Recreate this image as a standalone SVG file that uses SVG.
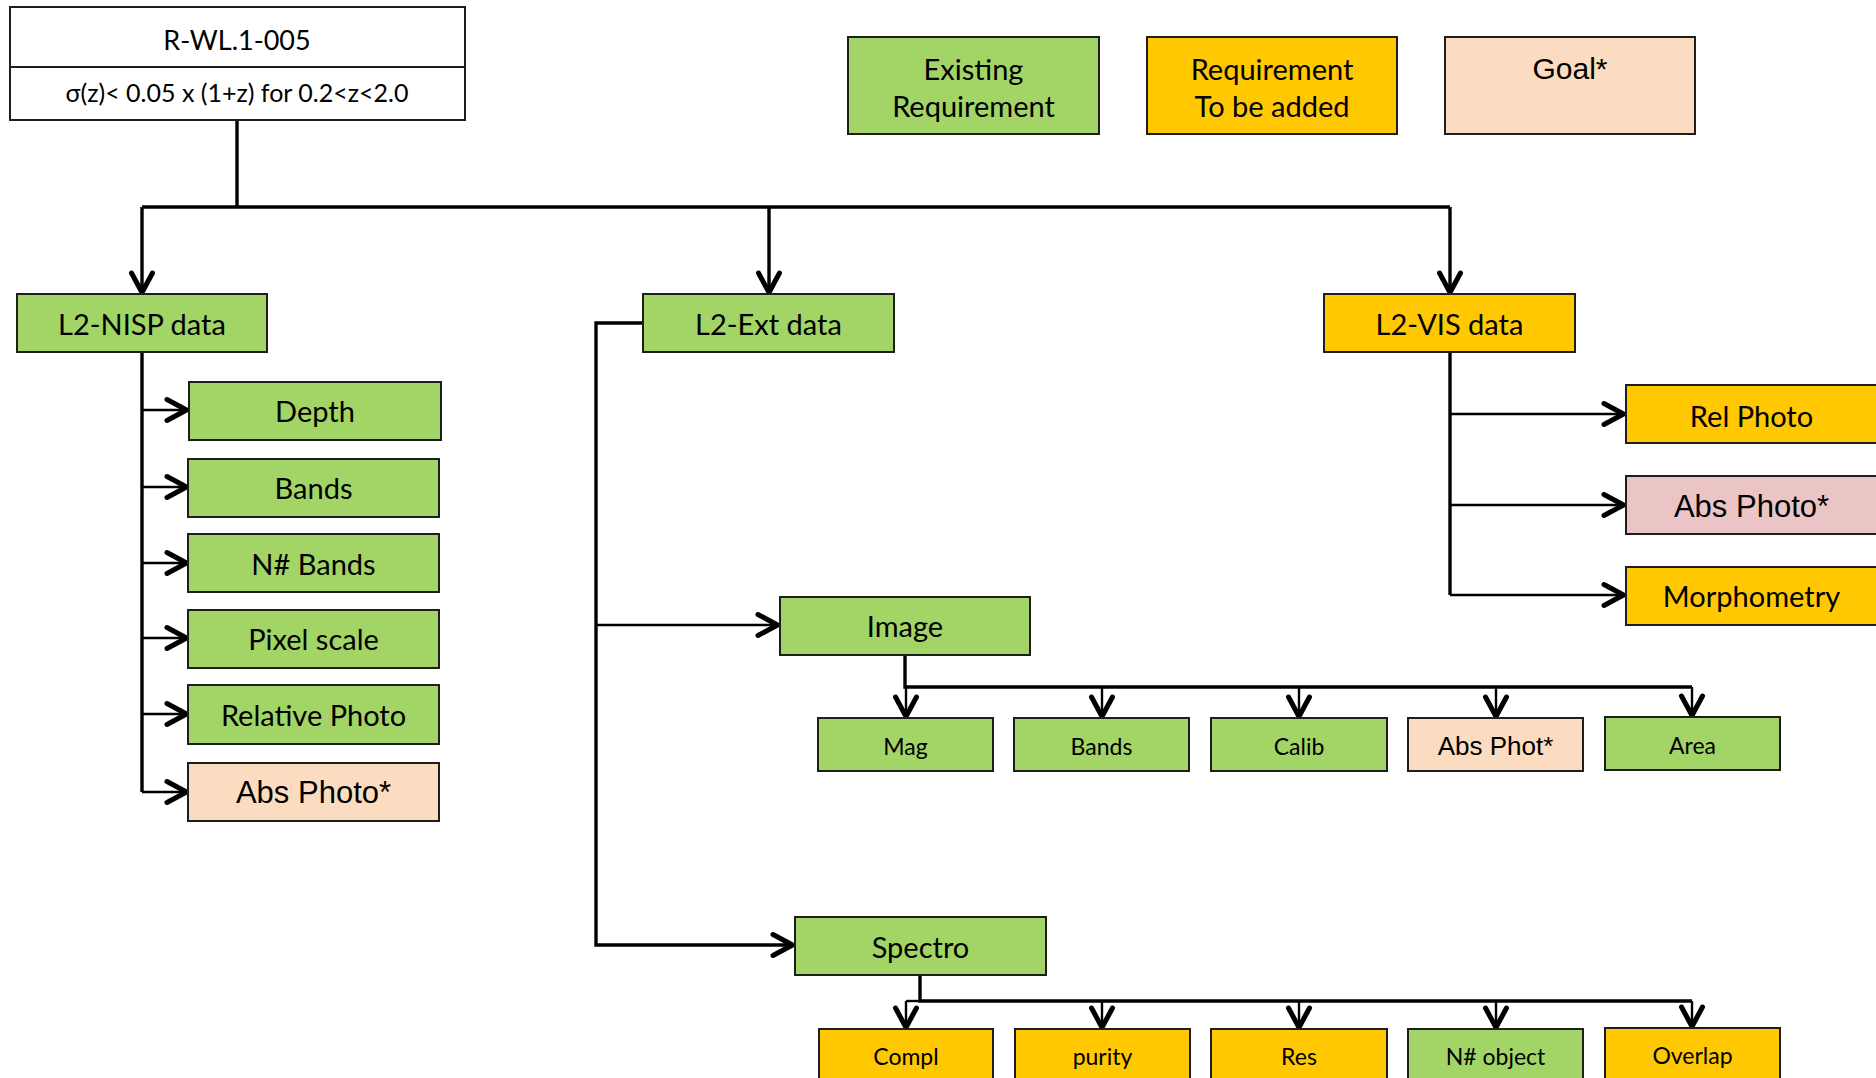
<svg xmlns="http://www.w3.org/2000/svg" width="1876" height="1078" viewBox="0 0 1876 1078">
  <style>
    .box { stroke: #1e1e1e; stroke-width: 2; }
    .green { fill: #A2D566; }
    .yellow { fill: #FFC800; }
    .peach { fill: #FCDCC0; }
    .pink { fill: #EBC5C5; }
    .white { fill: #FFFFFF; }
    .t { font-family: "Lato", "Open Sans", sans-serif; font-size: 29px; fill: #000; text-anchor: middle; }
    .ts { font-family: "Lato", "Open Sans", sans-serif; font-size: 23px; fill: #000; text-anchor: middle; }
    .a { font-family: "Liberation Sans", Arial, sans-serif; font-size: 31px; fill: #000; text-anchor: middle; }
    .as { font-family: "Liberation Sans", Arial, sans-serif; font-size: 26px; fill: #000; text-anchor: middle; }
    .ln { fill: none; stroke: #000; stroke-width: 2.4; }
    .lk { fill: none; stroke: #000; stroke-width: 3.4; }
  </style>
  <defs>
    <marker id="chev" markerUnits="userSpaceOnUse" markerWidth="32" markerHeight="32" viewBox="-28 -16 32 32" refX="0" refY="0" orient="auto">
      <path d="M-21,-10.5 L-1.5,0 L-21,10.5" fill="none" stroke="#000" stroke-width="5" stroke-linecap="round" stroke-linejoin="round"/>
    </marker>
  </defs>

  <rect width="1876" height="1078" fill="#FFFFFF"/>

  <!-- connectors -->
  <g id="connectors">
    <!-- root to the three data products -->
    <path class="lk" d="M237,120 V207"/>
    <path class="lk" d="M142,207 H1450"/>
    <path class="lk" d="M142,207 V294" marker-end="url(#chev)"/>
    <path class="lk" d="M769,207 V294" marker-end="url(#chev)"/>
    <path class="lk" d="M1450,207 V294" marker-end="url(#chev)"/>

    <!-- L2-NISP children -->
    <path class="lk" d="M142,352 V792"/>
    <path class="ln" d="M142,410 H188" marker-end="url(#chev)"/>
    <path class="ln" d="M142,487 H188" marker-end="url(#chev)"/>
    <path class="ln" d="M142,563 H188" marker-end="url(#chev)"/>
    <path class="ln" d="M142,638 H188" marker-end="url(#chev)"/>
    <path class="ln" d="M142,714 H188" marker-end="url(#chev)"/>
    <path class="ln" d="M142,792 H188" marker-end="url(#chev)"/>

    <!-- L2-Ext children -->
    <path class="lk" d="M643,323 H596 V945 H794" marker-end="url(#chev)"/>
    <path class="ln" d="M596,625 H779" marker-end="url(#chev)"/>

    <!-- Image children -->
    <path class="lk" d="M905,655 V687 H1692"/>
    <path class="ln" d="M906,687 V718" marker-end="url(#chev)"/>
    <path class="ln" d="M1102,687 V718" marker-end="url(#chev)"/>
    <path class="ln" d="M1299,687 V718" marker-end="url(#chev)"/>
    <path class="ln" d="M1496,687 V718" marker-end="url(#chev)"/>
    <path class="ln" d="M1692,687 V717" marker-end="url(#chev)"/>

    <!-- Spectro children -->
    <path class="lk" d="M920,975 V1001 H1692"/>
    <path class="ln" d="M906,1001 H920"/>
    <path class="ln" d="M906,1001 V1029" marker-end="url(#chev)"/>
    <path class="ln" d="M1102,1001 V1029" marker-end="url(#chev)"/>
    <path class="ln" d="M1299,1001 V1029" marker-end="url(#chev)"/>
    <path class="ln" d="M1496,1001 V1029" marker-end="url(#chev)"/>
    <path class="ln" d="M1692,1001 V1028" marker-end="url(#chev)"/>

    <!-- L2-VIS children -->
    <path class="lk" d="M1450,352 V595"/>
    <path class="ln" d="M1450,414 H1625" marker-end="url(#chev)"/>
    <path class="ln" d="M1450,505 H1625" marker-end="url(#chev)"/>
    <path class="ln" d="M1450,595 H1625" marker-end="url(#chev)"/>
  </g>

  <!-- root requirement -->
  <g id="root">
    <rect class="box white" x="10" y="7" width="455" height="113"/>
    <line x1="10" y1="67" x2="465" y2="67" stroke="#1e1e1e" stroke-width="2"/>
    <text class="t" x="237" y="50" style="font-size:27px">R-WL.1-005</text>
    <text class="t" x="237" y="102" style="font-size:25px">σ(z)&lt; 0.05 x (1+z) for 0.2&lt;z&lt;2.0</text>
  </g>

  <!-- legend -->
  <g id="legend-existing">
    <rect class="box green" x="848" y="37" width="251" height="97"/>
    <text class="t" x="973.5" y="80">Existing</text>
    <text class="t" x="973.5" y="117">Requirement</text>
  </g>
  <g id="legend-added">
    <rect class="box yellow" x="1147" y="37" width="250" height="97"/>
    <text class="t" x="1272" y="80">Requirement</text>
    <text class="t" x="1272" y="117">To be added</text>
  </g>
  <g id="legend-goal">
    <rect class="box peach" x="1445" y="37" width="250" height="97"/>
    <text class="a" x="1570" y="79" style="font-size:30px">Goal*</text>
  </g>

  <!-- data products -->
  <g id="l2-nisp">
    <rect class="box green" x="17" y="294" width="250" height="58"/>
    <text class="t" x="142" y="335">L2-NISP data</text>
  </g>
  <g id="l2-ext">
    <rect class="box green" x="643" y="294" width="251" height="58"/>
    <text class="t" x="768.5" y="335">L2-Ext data</text>
  </g>
  <g id="l2-vis">
    <rect class="box yellow" x="1324" y="294" width="251" height="58"/>
    <text class="t" x="1449.5" y="335">L2-VIS data</text>
  </g>

  <!-- NISP requirements -->
  <g id="nisp-depth">
    <rect class="box green" x="189" y="382" width="252" height="58"/>
    <text class="t" x="315" y="422">Depth</text>
  </g>
  <g id="nisp-bands">
    <rect class="box green" x="188" y="459" width="251" height="58"/>
    <text class="t" x="313.5" y="499">Bands</text>
  </g>
  <g id="nisp-nbands">
    <rect class="box green" x="188" y="534" width="251" height="58"/>
    <text class="t" x="313.5" y="575">N# Bands</text>
  </g>
  <g id="nisp-pixel">
    <rect class="box green" x="188" y="610" width="251" height="58"/>
    <text class="t" x="313.5" y="650">Pixel scale</text>
  </g>
  <g id="nisp-relphoto">
    <rect class="box green" x="188" y="685" width="251" height="59"/>
    <text class="t" x="313.5" y="726">Relative Photo</text>
  </g>
  <g id="nisp-absphoto">
    <rect class="box peach" x="188" y="763" width="251" height="58"/>
    <text class="a" x="313.5" y="803">Abs Photo*</text>
  </g>

  <!-- VIS requirements -->
  <g id="vis-relphoto">
    <rect class="box yellow" x="1626" y="385" width="251" height="58"/>
    <text class="t" x="1751.5" y="427">Rel Photo</text>
  </g>
  <g id="vis-absphoto">
    <rect class="box pink" x="1626" y="476" width="251" height="58"/>
    <text class="a" x="1751.5" y="517">Abs Photo*</text>
  </g>
  <g id="vis-morphometry">
    <rect class="box yellow" x="1626" y="567" width="251" height="58"/>
    <text class="t" x="1751.5" y="607">Morphometry</text>
  </g>

  <!-- Ext branches -->
  <g id="ext-image">
    <rect class="box green" x="780" y="597" width="250" height="58"/>
    <text class="t" x="905" y="637">Image</text>
  </g>
  <g id="ext-spectro">
    <rect class="box green" x="795" y="917" width="251" height="58"/>
    <text class="t" x="920.5" y="958">Spectro</text>
  </g>

  <!-- Image requirements -->
  <g id="img-mag">
    <rect class="box green" x="818" y="718" width="175" height="53"/>
    <text class="ts" x="905.5" y="755">Mag</text>
  </g>
  <g id="img-bands">
    <rect class="box green" x="1014" y="718" width="175" height="53"/>
    <text class="ts" x="1101.5" y="755">Bands</text>
  </g>
  <g id="img-calib">
    <rect class="box green" x="1211" y="718" width="176" height="53"/>
    <text class="ts" x="1299" y="755">Calib</text>
  </g>
  <g id="img-absphot">
    <rect class="box peach" x="1408" y="718" width="175" height="53"/>
    <text class="as" x="1495.5" y="755">Abs Phot*</text>
  </g>
  <g id="img-area">
    <rect class="box green" x="1605" y="717" width="175" height="53"/>
    <text class="ts" x="1692.5" y="754">Area</text>
  </g>

  <!-- Spectro requirements -->
  <g id="spec-compl">
    <rect class="box yellow" x="819" y="1029" width="174" height="53"/>
    <text class="ts" x="906" y="1065">Compl</text>
  </g>
  <g id="spec-purity">
    <rect class="box yellow" x="1015" y="1029" width="175" height="53"/>
    <text class="ts" x="1102.5" y="1065">purity</text>
  </g>
  <g id="spec-res">
    <rect class="box yellow" x="1211" y="1029" width="176" height="53"/>
    <text class="ts" x="1299" y="1065">Res</text>
  </g>
  <g id="spec-nobject">
    <rect class="box green" x="1408" y="1029" width="175" height="53"/>
    <text class="ts" x="1495.5" y="1065">N# object</text>
  </g>
  <g id="spec-overlap">
    <rect class="box yellow" x="1605" y="1028" width="175" height="53"/>
    <text class="ts" x="1692.5" y="1064">Overlap</text>
  </g>
</svg>
